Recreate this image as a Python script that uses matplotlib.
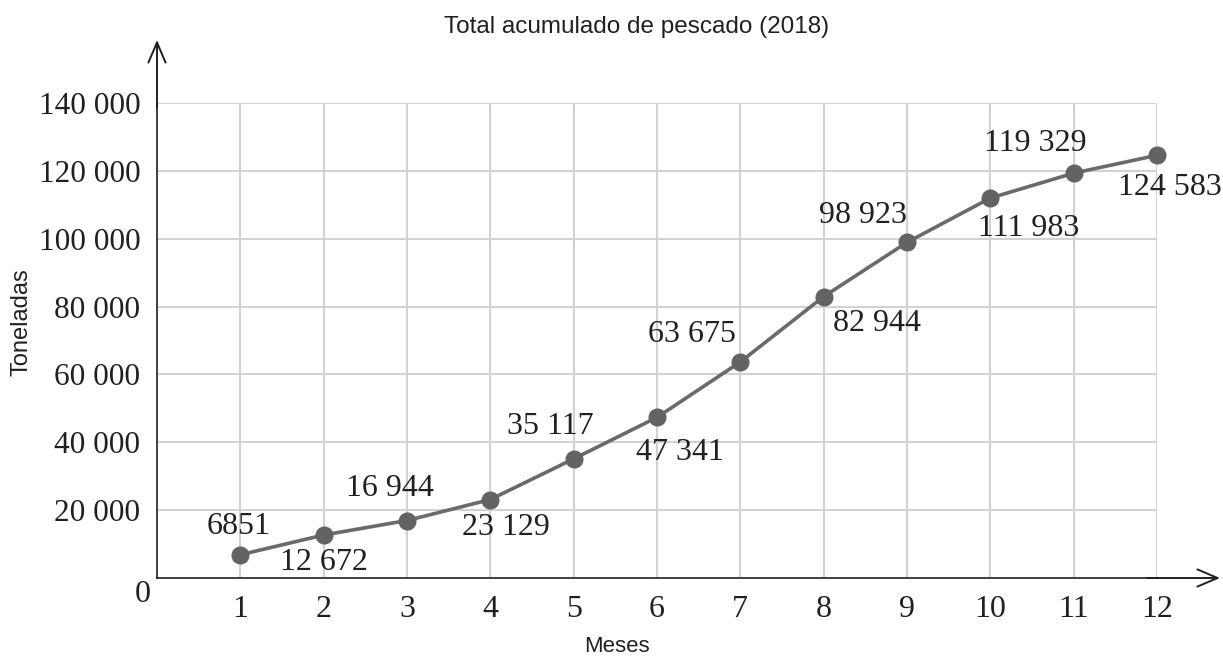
import matplotlib
matplotlib.use("Agg")
import matplotlib.pyplot as plt

# data
months = [1, 2, 3, 4, 5, 6, 7, 8, 9, 10, 11, 12]
tons = [6851, 12672, 16944, 23129, 35117, 47341, 63675, 82944, 98923, 111983, 119329, 124583]
labels = ["6851", "12 672", "16 944", "23 129", "35 117", "47 341",
          "63 675", "82 944", "98 923", "111 983", "119 329", "124 583"]
# label offsets in pixels from each point
offsets = [(-2, 28), (0, -27), (-17, 32), (16, -28), (-23, 32), (23, -35),
           (-48, 27), (53, -27), (-44, 27), (38, -30), (-38, 30), (13, -32)]
yticks = [20000, 40000, 60000, 80000, 100000, 120000, 140000]
ytick_labels = ["20 000", "40 000", "60 000", "80 000", "100 000", "120 000", "140 000"]

serif = "Liberation Serif"
sans = "Liberation Sans"
W, H = 1223, 657

fig = plt.figure(figsize=(W / 100, H / 100), dpi=100)
ax = fig.add_axes([157 / W, (H - 578) / H, 1000 / W, 475 / H])

ax.set_xlim(0, 12)
ax.set_ylim(0, 140000)
ax.set_xticks(months)
ax.set_xticklabels([str(m) for m in months], fontfamily=serif, fontsize=23)
ax.set_yticks(yticks)
ax.set_yticklabels(ytick_labels, fontfamily=serif, fontsize=22.5)
ax.tick_params(length=0, colors="#231f20")
ax.tick_params(axis="x", pad=12)
ax.tick_params(axis="y", pad=12)
ax.grid(True, color="#d2d2d2", linewidth=1.5)
ax.set_axisbelow(True)
for s in ["top", "right"]:
    ax.spines[s].set_visible(False)
for s in ["left", "bottom"]:
    ax.spines[s].set_color("#231f20")
    ax.spines[s].set_linewidth(1.2)

ax.plot(months, tons, color="#6a6a6c", linewidth=2.6, marker="o",
        markersize=12, markerfacecolor="#636365", markeredgecolor="#636365",
        zorder=3, clip_on=False)

for x, y, t, (dx, dy) in zip(months, tons, labels, offsets):
    ax.annotate(t, (x, y), xytext=(dx, dy), textcoords="offset pixels",
                ha="center", va="center", fontfamily=serif, fontsize=23,
                color="#231f20")

# origin label
ax.annotate("0", (0, 0), xytext=(-14, -17), textcoords="offset pixels",
            ha="center", va="center", fontfamily=serif, fontsize=23,
            color="#231f20", annotation_clip=False)

# axis arrows
arrow = dict(arrowstyle="->,head_length=1.45,head_width=0.62", color="#231f20",
             linewidth=1.4, shrinkA=0, shrinkB=0)
ax.annotate("", xy=((1220 - 157) / 1000, 0), xytext=(0.99, 0),
            xycoords="axes fraction", arrowprops=arrow, annotation_clip=False)
ax.annotate("", xy=(0, (578 - 40) / 475), xytext=(0, 0.99),
            xycoords="axes fraction", arrowprops=arrow, annotation_clip=False)

fig.text(637 / W, 1 - 27 / H, "Total acumulado de pescado (2018)", ha="center",
         va="center", fontfamily=sans, fontsize=17.5, color="#231f20")
fig.text(617 / W, 1 - 647 / H, "Meses", ha="center", va="center",
         fontfamily=sans, fontsize=16, color="#231f20")
fig.text(22 / W, 1 - 322 / H, "Toneladas", ha="center", va="center",
         rotation=90, fontfamily=sans, fontsize=17, color="#231f20")

fig.savefig("out.png", dpi=100)
